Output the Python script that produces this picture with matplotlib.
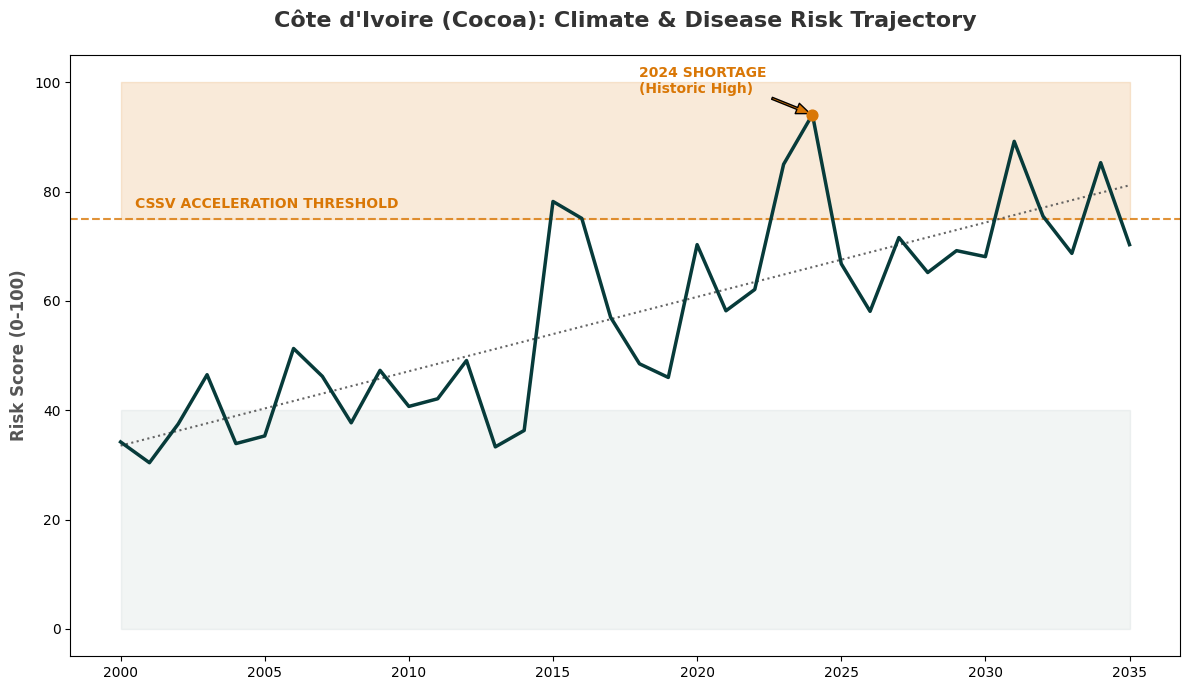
import numpy as np
import matplotlib
matplotlib.use("Agg")
import matplotlib.pyplot as plt

# ── Data ─────────────────────────────────────────────────────────────────────
years = list(range(2000, 2036))
risk = [34.2, 30.4, 37.5, 46.5, 33.9, 35.3, 51.3, 46.2, 37.7, 47.3,
        40.7, 42.1, 49.1, 33.3, 36.3, 78.2, 75.1, 57.0, 48.5, 46.0,
        70.3, 58.2, 62.1, 85.0, 94.1, 66.8, 58.1, 71.6, 65.2, 69.2,
        68.1, 89.2, 75.5, 68.7, 85.3, 70.3]
threshold = 75
peak_year = 2024

LINE = "#073b3a"
ORANGE = "#d97706"
DARK = "#333333"

fig, ax = plt.subplots(figsize=(11.89, 6.9), dpi=100)
fig.subplots_adjust(left=0.059, right=0.9924, top=0.9203, bottom=0.049)

# background bands
ax.fill_between([years[0], years[-1]], 0, 40, color=LINE, alpha=0.05, zorder=0)
ax.fill_between([years[0], years[-1]], threshold, 100, color=ORANGE, alpha=0.15, zorder=0)

# threshold
ax.axhline(threshold, color=ORANGE, linestyle="--", linewidth=1.5, alpha=0.8)
ax.text(years[0] + 0.5, threshold + 2, "CSSV ACCELERATION THRESHOLD",
        color=ORANGE, fontsize=10, fontweight="bold")

# main series
ax.plot(years, risk, color=LINE, linewidth=2.5, zorder=3)

# trend
coef = np.polyfit(years, risk, 1)
ax.plot(years, np.polyval(coef, years), color="#555555", linestyle=":",
        linewidth=1.5, alpha=0.9, zorder=2)

# peak marker + annotation
peak_val = risk[years.index(peak_year)]
ax.scatter([peak_year], [peak_val], color=ORANGE, s=60, zorder=5)
ax.annotate("2024 SHORTAGE\n(Historic High)", xy=(peak_year, peak_val),
            xytext=(2018, 98), color=ORANGE, fontsize=10, fontweight="bold",
            arrowprops=dict(facecolor=ORANGE, edgecolor="black", shrink=0.05,
                            width=1.5, headwidth=8, headlength=10))

ax.set_ylim(-5, 105)
ax.set_title("Côte d'Ivoire (Cocoa): Climate & Disease Risk Trajectory",
             fontsize=16, fontweight="bold", color=DARK, pad=20)
ax.set_ylabel("Risk Score (0-100)", fontsize=12, fontweight="bold", color="#555555")

plt.savefig("out.png", dpi=100)
